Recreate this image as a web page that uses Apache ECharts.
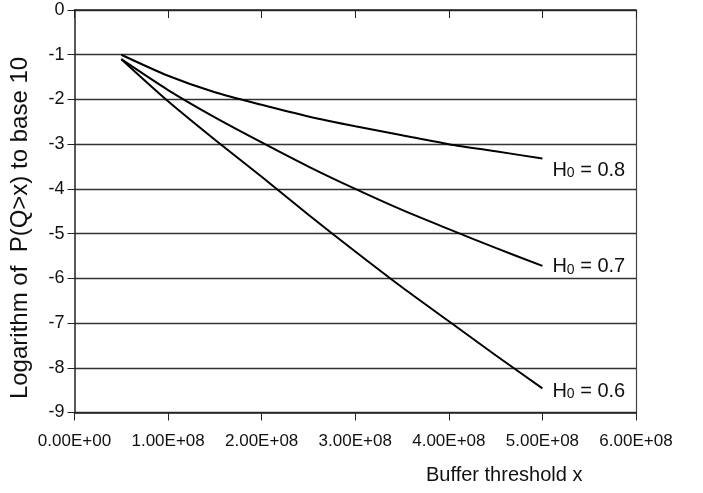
<!DOCTYPE html>
<html>
<head>
<meta charset="utf-8">
<script src="https://cdn.jsdelivr.net/npm/echarts@6/dist/echarts.min.js"></script>
<style>
html,body{margin:0;padding:0;background:#fff;}
#c{width:703px;height:493px;}
</style>
</head>
<body>
<div id="c"></div>
<script>
// Data
const xValues = [5e7, 1e8, 1.5e8, 2e8, 2.5e8, 3e8, 3.5e8, 4e8, 4.5e8, 5e8];
const h08 = [-1.0, -1.47, -1.84, -2.12, -2.38, -2.6, -2.8, -3.0, -3.16, -3.32];
const h07 = [-1.1, -1.79, -2.4, -2.96, -3.5, -4.0, -4.47, -4.9, -5.32, -5.72];
const h06 = [-1.1, -2.04, -2.9, -3.73, -4.58, -5.4, -6.2, -6.96, -7.72, -8.46];
const seriesNames = ['0.8', '0.7', '0.6'];
const xTitle = 'Buffer threshold x';
const yTitle = 'Logarithm of  P(Q>x) to base 10';

const FONT = "'Liberation Sans', Arial, sans-serif";

function sci(v) {
  if (v === 0) return '0.00E+00';
  const e = Math.floor(Math.log10(Math.abs(v)) + 1e-9);
  const m = v / Math.pow(10, e);
  const es = (e < 0 ? '-' : '+') + String(Math.abs(e)).padStart(2, '0');
  return m.toFixed(2) + 'E' + es;
}

function mk(vals) { return xValues.map((x, i) => [x, vals[i]]); }

const labelOffsets = [[2, 12], [2, 1], [2, 3]];
const allVals = [h08, h07, h06];

const chart = echarts.init(document.getElementById('c'), null, {renderer: 'canvas'});
chart.setOption({
  backgroundColor: '#fff',
  animation: false,
  grid: {left: 74.5, right: 67, top: 10, bottom: 80.5, containLabel: false},
  xAxis: [{
    type: 'value', min: 0, max: 6e8, interval: 1e8, position: 'bottom',
    axisLine: {show: true, onZero: false, lineStyle: {color: '#222', width: 1.5}},
    axisTick: {show: true, inside: false, length: 8, lineStyle: {color: '#222'}},
    axisLabel: {formatter: sci, color: '#111', fontFamily: FONT, fontSize: 17, margin: 20},
    splitLine: {show: false}
  }, {
    type: 'value', min: 0, max: 6e8, interval: 1e8, position: 'top',
    axisLine: {show: true, onZero: false, lineStyle: {color: '#222', width: 1.5}},
    axisTick: {show: true, inside: true, length: 8, lineStyle: {color: '#222'}},
    axisLabel: {show: false},
    splitLine: {show: false}
  }],
  yAxis: [{
    type: 'value', min: -9, max: 0, interval: 1, position: 'left',
    axisLine: {show: true, onZero: false, lineStyle: {color: '#222', width: 1.5}},
    axisTick: {show: true, inside: false, length: 7, lineStyle: {color: '#222'}},
    axisLabel: {color: '#111', fontFamily: FONT, fontSize: 18, margin: 10},
    splitLine: {show: true, lineStyle: {color: '#333', width: 1.3}}
  }, {
    type: 'value', min: -9, max: 0, interval: 1, position: 'right',
    axisLine: {show: true, onZero: false, lineStyle: {color: '#444', width: 1.2}},
    axisTick: {show: false}, axisLabel: {show: false}, splitLine: {show: false}
  }],
  graphic: [{
    type: 'text', left: 426, top: 465,
    style: {text: xTitle, fill: '#111', font: "20px " + FONT}
  }, {
    type: 'text', x: 20, y: 228, rotation: Math.PI / 2,
    style: {text: yTitle, fill: '#111', font: "24px " + FONT,
      textAlign: 'center', textVerticalAlign: 'middle'}
  }],
  series: allVals.map((vals, i) => ({
    type: 'line', name: 'H0 = ' + seriesNames[i], data: mk(vals),
    xAxisIndex: 0, yAxisIndex: 0,
    showSymbol: false, symbol: 'none', smooth: 0.25,
    lineStyle: {color: '#000', width: 2},
    endLabel: {
      show: true, offset: labelOffsets[i],
      formatter: () => '{h|H}{s|0}{t| = ' + seriesNames[i] + '}',
      rich: {
        h: {fontFamily: FONT, fontSize: 20, color: '#111'},
        s: {fontFamily: FONT, fontSize: 14, color: '#111', verticalAlign: 'bottom', padding: [6, 0, 0, 0]},
        t: {fontFamily: FONT, fontSize: 20, color: '#111'}
      }
    }
  }))
});
</script>
</body>
</html>
